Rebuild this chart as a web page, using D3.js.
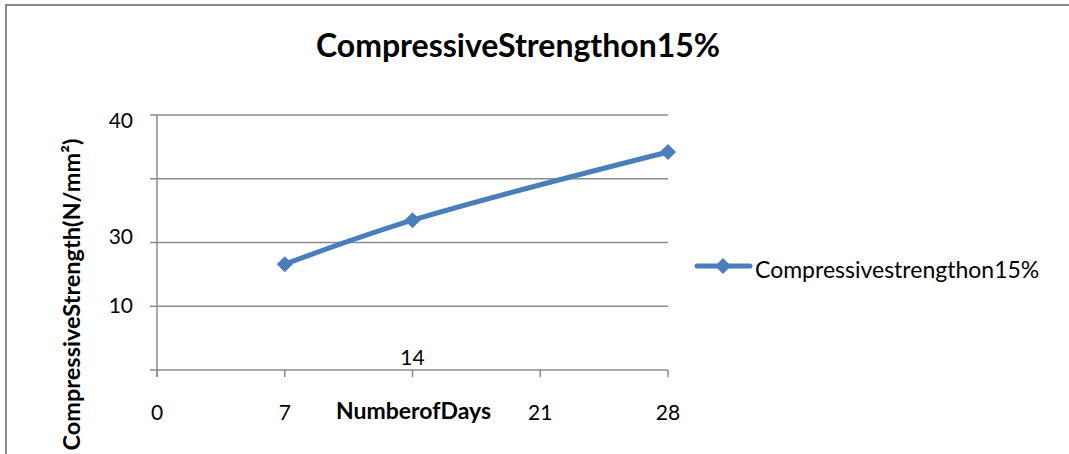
<!DOCTYPE html>
<html>
<head>
<meta charset="utf-8">
<script src="https://cdn.jsdelivr.net/npm/d3@7"></script>
<style>
  html, body { margin: 0; padding: 0; background: #fff; }
  svg { display: block; }
  text { font-family: Lato, "Open Sans", sans-serif; fill: #000; }
</style>
</head>
<body>
<svg id="chart" width="1069" height="454"></svg>
<script>
// Curing age in days and measured strength
const days = [7, 14, 28];
const strength = [16.6, 23.5, 34.2];

// Axis ticks and the labels printed beside them
const xTicks = [0, 7, 14, 21, 28];
const xTickLabels = ["0", "7", "14", "21", "28"];
const yTicks = [0, 10, 20, 30, 40];
const yTickLabels = ["", "10", "30", "", "40"];

const titleText = "CompressiveStrengthon15%";
const xTitle = "NumberofDays";
const yTitle = "CompressiveStrength(N/mm\u00B2)";
const seriesName = "Compressivestrengthon15%";

const svg = d3.select("#chart");
const W = 1069, H = 454;
const plot = { left: 157, right: 668, top: 115, bottom: 370 };
const blue = "#4a7ebb";
const gridColor = "#8c8c8c";

// vertical nudges of the y labels relative to their gridlines
const yLabelShift = { "40": 13, "30": 1, "10": 7 };

// outer chart frame (top and left edges show)
svg.append("rect")
  .attr("x", 6).attr("y", 5)
  .attr("width", W + 10).attr("height", H + 10)
  .attr("fill", "none").attr("stroke", "#8a8a8a").attr("stroke-width", 2);

const x = d3.scaleLinear().domain([0, 28]).range([plot.left, plot.right]);
const y = d3.scaleLinear().domain([0, 40]).range([plot.bottom, plot.top]);

// horizontal gridlines with short tick stubs on the left
svg.append("g")
  .selectAll("line")
  .data(yTicks)
  .join("line")
  .attr("x1", plot.left - 7).attr("x2", plot.right)
  .attr("y1", d => y(d)).attr("y2", d => y(d))
  .attr("stroke", gridColor).attr("stroke-width", 1.5);

// y axis line
svg.append("line")
  .attr("x1", plot.left).attr("x2", plot.left)
  .attr("y1", plot.top).attr("y2", plot.bottom + 7)
  .attr("stroke", gridColor).attr("stroke-width", 1.5);

// y tick labels
svg.append("g")
  .selectAll("text")
  .data(yTicks)
  .join("text")
  .attr("x", 133)
  .attr("y", (d, i) => y(d) + (yLabelShift[yTickLabels[i]] || 0))
  .attr("text-anchor", "end")
  .attr("font-size", 21)
  .text((d, i) => yTickLabels[i]);

// x tick marks
svg.append("g")
  .selectAll("line")
  .data(xTicks)
  .join("line")
  .attr("x1", d => x(d)).attr("x2", d => x(d))
  .attr("y1", plot.bottom).attr("y2", plot.bottom + 7)
  .attr("stroke", gridColor).attr("stroke-width", 1.5);

// x tick labels; the 14 label sits just above the axis
svg.append("g")
  .selectAll("text")
  .data(xTicks)
  .join("text")
  .attr("x", d => x(d))
  .attr("y", d => d === 14 ? plot.bottom - 5 : plot.bottom + 50)
  .attr("text-anchor", "middle")
  .attr("font-size", 21)
  .text((d, i) => xTickLabels[i]);

// axis titles
svg.append("text")
  .attr("x", x(14) + 1).attr("y", plot.bottom + 49)
  .attr("text-anchor", "middle")
  .attr("font-size", 23).attr("font-weight", "bold")
  .text(xTitle);

svg.append("text")
  .attr("transform", "translate(80,294.5) rotate(-90)")
  .attr("text-anchor", "middle")
  .attr("font-size", 23.5).attr("font-weight", "bold")
  .text(yTitle);

// chart title
svg.append("text")
  .attr("x", 518).attr("y", 57)
  .attr("text-anchor", "middle")
  .attr("font-size", 32).attr("font-weight", "bold")
  .text(titleText);

// data series, lightly smoothed
const pts = days.map((d, i) => [x(d), y(strength[i])]);
const line = d3.line().curve(d3.curveCatmullRom.alpha(0.5));
svg.append("path")
  .attr("d", line(pts))
  .attr("fill", "none")
  .attr("stroke", blue)
  .attr("stroke-width", 5)
  .attr("stroke-linecap", "round");

const diamond = d3.symbol().type(d3.symbolDiamond2).size(165);
svg.append("g")
  .selectAll("path")
  .data(pts)
  .join("path")
  .attr("transform", d => `translate(${d[0]},${d[1]})`)
  .attr("d", diamond)
  .attr("fill", blue);

// legend
const lg = svg.append("g").attr("transform", "translate(697,266)");
lg.append("line")
  .attr("x1", 0).attr("x2", 53)
  .attr("stroke", blue).attr("stroke-width", 5)
  .attr("stroke-linecap", "round");
lg.append("path").attr("transform", "translate(26,0)").attr("d", diamond).attr("fill", blue);
lg.append("text")
  .attr("x", 58).attr("y", 12)
  .attr("font-size", 23)
  .text(seriesName);
</script>
</body>
</html>
